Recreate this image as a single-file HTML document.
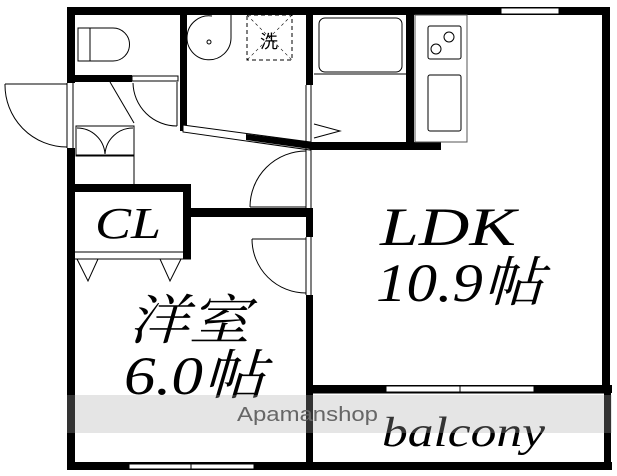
<!DOCTYPE html>
<html><head><meta charset="utf-8"><style>
html,body{margin:0;padding:0;background:#fff;}
svg{display:block}
</style></head><body>
<svg width="617" height="476" viewBox="0 0 617 476" xmlns="http://www.w3.org/2000/svg">
<rect width="617" height="476" fill="#fff"/>
<g fill="#000">
<rect x="67" y="7" width="543" height="8"/>
<rect x="67" y="7" width="8" height="76"/>
<rect x="67" y="148" width="8" height="322"/>
<rect x="67" y="462" width="545" height="8"/>
<rect x="602" y="7" width="8" height="385"/>
<rect x="604" y="392" width="7" height="78"/>
<rect x="67" y="75" width="65" height="7"/>
<rect x="180" y="7" width="7" height="124"/>
<rect x="306" y="7" width="7" height="78"/>
<rect x="406" y="7" width="8" height="142"/>
<rect x="306" y="142" width="135" height="8"/>
<rect x="67" y="184" width="124" height="8"/>
<rect x="183" y="184" width="8" height="75"/>
<rect x="191" y="208" width="122" height="9"/>
<rect x="306" y="208" width="7" height="29"/>
<rect x="306" y="295" width="7" height="175"/>
<rect x="306" y="385" width="306" height="8"/>
</g>
<rect x="501" y="8" width="58" height="6" fill="#fff" stroke="#000" stroke-width="1"/>
<rect x="132" y="76" width="46" height="5" fill="#fff" stroke="#000" stroke-width="1"/>
<polygon points="183,125 310,142 310,150 183,132" fill="#fff" stroke="#000" stroke-width="1"/>
<polygon points="246,134 310,142 310,149 246,140" fill="#000"/>
<line x1="306" y1="85" x2="306" y2="208" stroke="#000" stroke-width="1"/>
<line x1="311" y1="85" x2="311" y2="208" stroke="#000" stroke-width="1"/>
<line x1="306" y1="237" x2="306" y2="295" stroke="#000" stroke-width="1"/>
<line x1="311" y1="237" x2="311" y2="295" stroke="#000" stroke-width="1"/>
<rect x="386" y="386" width="148" height="6" fill="#fff" stroke="#000" stroke-width="1"/>
<line x1="460" y1="386" x2="460" y2="392" stroke="#000"/>
<rect x="129" y="464" width="125" height="5" fill="#fff" stroke="#000" stroke-width="1"/>
<line x1="191" y1="464" x2="191" y2="469" stroke="#000"/>
<g fill="none" stroke="#000" stroke-width="1">
<line x1="67" y1="83" x2="67" y2="148"/>
<line x1="73" y1="83" x2="73" y2="148"/>
<path d="M5,84 A62,62 0 0 0 67,147"/>
<line x1="5" y1="84" x2="67" y2="84"/>
<path d="M78,28 L90,28 L90,61 L78,61 Z"/>
<path d="M90,28 L113,28 A16,16 0 0 1 113,61 L90,61"/>
<path d="M231,15 L231,38 A22,22 0 1 1 212,16"/>
<circle cx="209" cy="42" r="2"/>
<rect x="247" y="15" width="45" height="45" stroke-dasharray="4,3"/>
<line x1="247" y1="15" x2="292" y2="60" stroke-dasharray="3,3" stroke-width="0.6"/>
<line x1="292" y1="15" x2="247" y2="60" stroke-dasharray="3,3" stroke-width="0.6"/>
<line x1="110" y1="82" x2="134" y2="123"/>
<rect x="76" y="126" width="58" height="30"/>
<line x1="76" y1="155" x2="134" y2="155"/>
<path d="M77,128 A28,28 0 0 1 105,154 A28,28 0 0 1 133,128"/>
<line x1="134" y1="155" x2="134" y2="184"/>
<path d="M133,83 A44,44 0 0 0 177,126"/>
<line x1="177" y1="82" x2="177" y2="126"/>
<path d="M306,151 A56,56 0 0 0 250,207"/>
<line x1="250" y1="207" x2="306" y2="207"/>
<path d="M252,239 A54,54 0 0 0 306,293"/>
<line x1="252" y1="239" x2="306" y2="239"/>
<line x1="75" y1="252" x2="183" y2="252"/>
<line x1="75" y1="259" x2="191" y2="259"/>
<path d="M77,259 L88,281 L98,259"/>
<path d="M160,259 L170,281 L181,259"/>
<line x1="314" y1="74" x2="406" y2="74"/>
<rect x="319" y="18" width="83" height="54" rx="6"/>
<path d="M314,124 L340,131 L314,138"/>
<rect x="415" y="15" width="52" height="127" stroke="#555"/>
<rect x="428" y="26" width="33" height="33" rx="2"/>
<circle cx="436" cy="49" r="5"/>
<circle cx="449" cy="37" r="5"/>
<rect x="428" y="75" width="33" height="56" rx="2"/>
<line x1="313" y1="393" x2="604" y2="393"/>
</g>
<text x="260" y="48" font-family="'Liberation Sans','Noto Sans CJK JP',sans-serif" font-size="18" fill="#000">洗</text>
<g font-family="'Liberation Serif','Noto Serif CJK SC',serif" font-style="italic" fill="#000">
<text x="95" y="238" font-size="44" textLength="66" lengthAdjust="spacingAndGlyphs">CL</text>
<text x="380" y="245" font-size="54" textLength="136" lengthAdjust="spacingAndGlyphs">LDK</text>
<text x="376" y="301" font-size="54" textLength="168" lengthAdjust="spacingAndGlyphs">10.9帖</text>
<text x="128" y="339" font-size="54" textLength="122" lengthAdjust="spacingAndGlyphs">洋室</text>
<text x="124" y="394" font-size="54" textLength="142" lengthAdjust="spacingAndGlyphs">6.0帖</text>
<text x="382" y="446" font-size="42" textLength="163" lengthAdjust="spacingAndGlyphs">balcony</text>
</g>
<rect x="67" y="395" width="545" height="38" fill="#aaa" opacity="0.3"/>
<text x="237" y="421" font-family="'Liberation Sans',sans-serif" font-size="20" fill="#666" textLength="141" lengthAdjust="spacingAndGlyphs">Apamanshop</text>
</svg>
</body></html>
